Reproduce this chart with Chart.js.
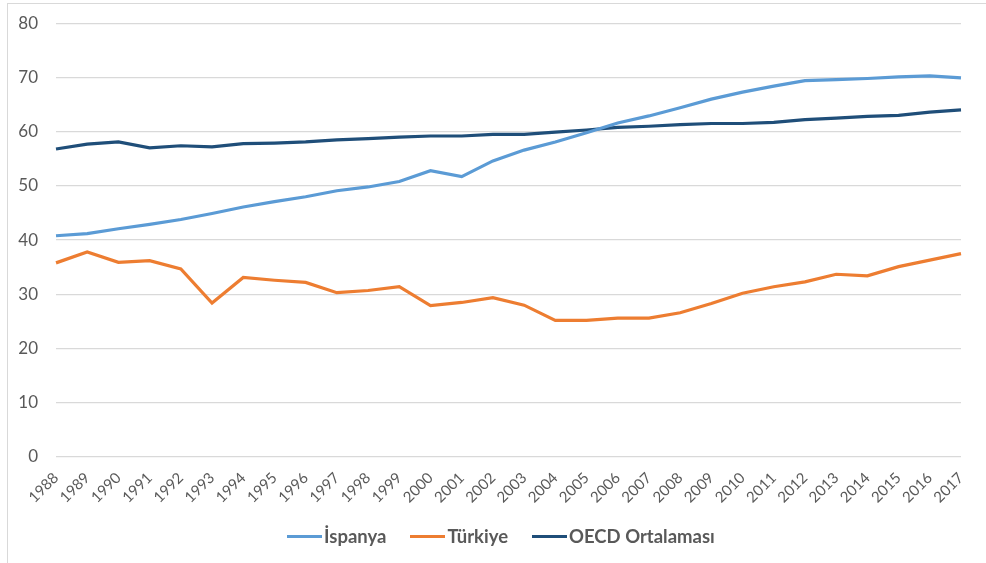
<!DOCTYPE html>
<html lang="tr">
<head>
    <meta charset="UTF-8">
    <title>İspanya, Türkiye ve OECD</title>
    <script src="https://cdn.jsdelivr.net/npm/chart.js@4"></script>
    <style>
        body{
            margin: 0;
            background: #fff;
        }
        .frame{
            position: absolute;
            left: 7px;
            top: 3px;
            width: 979px;
            height: 560px;
            border-left: 1px solid #d9d9d9;
            border-top: 1px solid #d9d9d9;
        }
        .frame canvas{
            position: absolute;
            left: 0;
            top: -9px;
        }
        #legend{
            position: absolute;
            left: 279px;
            top: 521px;
            display: flex;
            font-family: Lato, sans-serif;
            font-weight: bold;
            font-size: 18.5px;
            color: #595959;
        }
        #legend .item{
            display: flex;
            align-items: center;
            margin-right: 24px;
        }
        #legend .mark{
            display: inline-block;
            width: 35px;
            height: 3px;
            margin-right: 2px;
        }
    </style>
</head>
<body>
    <div class="frame">
        <canvas id="chartCanvas" width="978" height="568"></canvas>
        <div id="legend"></div>
    </div>

    <script>
        var years = ['1988','1989','1990','1991','1992','1993','1994','1995','1996','1997',
                     '1998','1999','2000','2001','2002','2003','2004','2005','2006','2007',
                     '2008','2009','2010','2011','2012','2013','2014','2015','2016','2017'];

        var ispanya = [40.8, 41.2, 42.1, 42.9, 43.8, 44.9, 46.1, 47.1, 48.0, 49.1,
                       49.8, 50.8, 52.8, 51.7, 54.6, 56.6, 58.1, 59.8, 61.6, 62.9,
                       64.4, 66.0, 67.3, 68.4, 69.4, 69.6, 69.8, 70.1, 70.3, 69.9];

        var turkiye = [35.8, 37.8, 35.9, 36.2, 34.7, 28.4, 33.1, 32.6, 32.2, 30.3,
                       30.7, 31.4, 27.9, 28.5, 29.4, 28.0, 25.2, 25.2, 25.6, 25.6,
                       26.6, 28.3, 30.2, 31.4, 32.3, 33.7, 33.4, 35.1, 36.3, 37.5];

        var oecd = [56.8, 57.7, 58.1, 57.0, 57.4, 57.2, 57.8, 57.9, 58.1, 58.5,
                    58.7, 59.0, 59.2, 59.2, 59.5, 59.5, 59.9, 60.3, 60.8, 61.0,
                    61.3, 61.5, 61.5, 61.7, 62.2, 62.5, 62.8, 63.0, 63.6, 64.0];

        var yTicks = [0, 10, 20, 30, 40, 50, 60, 70, 80];

        var textGrey = '#595959';
        var gridGrey = '#d9d9d9';

        function lineSet(label, data, color){
            return {
                label: label,
                data: data,
                borderColor: color,
                backgroundColor: color,
                borderWidth: 3.2,
                pointRadius: 0,
                pointHoverRadius: 0,
                tension: 0,
                fill: false
            };
        }

        const ctx = document.getElementById('chartCanvas').getContext('2d');
        const chart = new Chart(ctx, {
            type: 'line',
            data: {
                labels: years,
                datasets: [
                    lineSet('İspanya', ispanya, '#5b9bd5'),
                    lineSet('Türkiye', turkiye, '#ed7d31'),
                    lineSet('OECD Ortalaması', oecd, '#1f4e79')
                ]
            },
            options: {
                responsive: false,
                animation: false,
                layout: {
                    padding: {top: 10, right: 25, bottom: 56, left: 0}
                },
                plugins: {
                    tooltip: {enabled: false},
                    legend: {display: false}
                },
                scales: {
                    x: {
                        offset: false,
                        grid: {display: false, drawTicks: false},
                        border: {display: false},
                        ticks: {
                            color: textGrey,
                            font: {family: 'Lato', size: 15},
                            minRotation: 45,
                            maxRotation: 45,
                            autoSkip: false,
                            padding: 12
                        },
                        afterFit: function(scale){ scale.height = 50; }
                    },
                    y: {
                        min: 0,
                        max: 80,
                        afterBuildTicks: function(scale){
                            scale.ticks = yTicks.map(function(v){ return {value: v}; });
                        },
                        grid: {color: gridGrey, lineWidth: 1.3, drawTicks: false},
                        border: {display: false},
                        ticks: {
                            color: textGrey,
                            font: {family: 'Lato', size: 17},
                            padding: 18
                        },
                        afterFit: function(scale){ scale.width = 48; }
                    }
                }
            }
        });

        // legend as html, built from the datasets
        var legendBox = document.getElementById('legend');
        chart.data.datasets.forEach(function(ds){
            var item = document.createElement('span');
            item.className = 'item';
            var mark = document.createElement('span');
            mark.className = 'mark';
            mark.style.background = ds.borderColor;
            item.appendChild(mark);
            item.appendChild(document.createTextNode(ds.label));
            legendBox.appendChild(item);
        });
    </script>
</body>
</html>
